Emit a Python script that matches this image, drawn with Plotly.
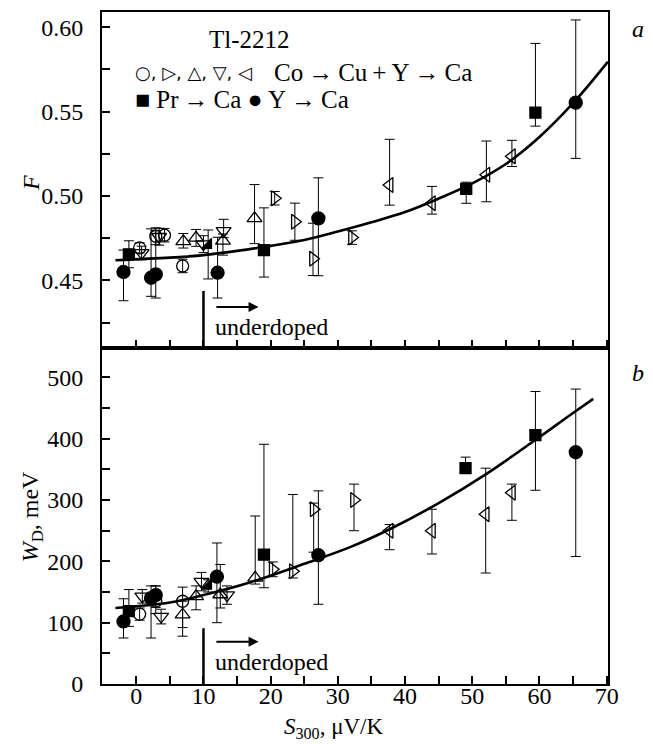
import plotly.graph_objects as go
from plotly.subplots import make_subplots

FONT = "Liberation Serif"

# ---------------- Panel a : F vs S300 ----------------
pr_S_a = [-1.1, 19.0, 49.1, 59.4]
pr_F = [0.4655, 0.468, 0.5042, 0.5494]
pr_F_up = [0.008, 0.025, 0.004, 0.041]
pr_F_dn = [0.008, 0.016, 0.0085, 0.008]

y_S_a = [-1.9, 2.2, 2.9, 12.1, 27.1, 65.4]
y_F = [0.455, 0.4516, 0.4536, 0.4546, 0.4868, 0.5553]
y_F_up = [0.013, 0.029, 0.026, 0.021, 0.024, 0.049]
y_F_dn = [0.017, 0.011, 0.014, 0.015, 0.034, 0.033]

c_S_a = [0.5, 2.9, 4.2, 6.9]
c_F = [0.4693, 0.4762, 0.4768, 0.4586]
c_F_up = [0.003, 0.005, 0.004, 0.004]
c_F_dn = [0.003, 0.005, 0.004, 0.004]

d_S_a = [0.8, 3.4, 10.0, 13.0]
d_F = [0.4663, 0.4759, 0.4715, 0.4794]
d_F_up = [0.004, 0.005, 0.005, 0.0068]
d_F_dn = [0.004, 0.005, 0.005, 0.004]

u_S_a = [7.0, 8.9, 12.9, 17.6]
u_F = [0.4732, 0.4752, 0.4735, 0.4868]
u_F_up = [0.0046, 0.005, 0.004, 0.020]
u_F_dn = [0.004, 0.005, 0.0085, 0.015]

r_S_a = [20.6, 23.6, 26.3, 32.1]
r_F = [0.4987, 0.4848, 0.4629, 0.4754]
r_F_up = [0.004, 0.011, 0.021, 0.004]
r_F_dn = [0.004, 0.011, 0.010, 0.004]

l_S_a = [37.7, 44.0, 52.1, 55.9]
l_F = [0.5066, 0.4957, 0.5126, 0.5235]
l_F_up = [0.027, 0.010, 0.020, 0.0095]
l_F_dn = [0.012, 0.0064, 0.016, 0.006]

f_S_a = [10.7]
f_F = [0.4709]
f_F_up = [0.009]
f_F_dn = [0.020]

curve_S_a = [-3.1, 5, 10, 15, 20, 25, 30, 35, 40, 45, 50, 55, 60, 65, 70.2]
curve_F = [0.462, 0.4635, 0.465, 0.4675, 0.4705, 0.474, 0.479, 0.4845, 0.4905,
           0.4985, 0.5075, 0.519, 0.535, 0.555, 0.5796]

# ---------------- Panel b : W_D vs S300 ----------------
pr_S_b = [-1.1, 19.0, 49.0, 59.4]
pr_W = [119, 211, 352, 406]
pr_W_up = [35, 180, 18, 71]
pr_W_dn = [25, 54, 6, 90]

y_S_b = [-1.9, 2.2, 2.9, 12.0, 27.1, 65.4]
y_W = [102, 140, 145, 175, 210, 378]
y_W_up = [37, 20, 15, 55, 105, 103]
y_W_dn = [27, 65, 20, 75, 80, 170]

c_S_b = [0.5, 2.9, 6.9]
c_W = [114, 135, 135]
c_W_up = [10, 25, 23]
c_W_dn = [10, 20, 43]

d_S_b = [0.9, 3.7, 9.7, 13.5]
d_W = [143, 110, 167, 145]
d_W_up = [11, 12, 15, 15]
d_W_dn = [11, 12, 15, 15]

u_S_b = [6.9, 8.9, 12.5, 17.7]
u_W = [113, 143, 146, 173]
u_W_up = [22, 17, 49, 101]
u_W_dn = [35, 22, 22, 10]

r_S_b = [20.3, 23.3, 26.4, 32.4]
r_W = [187, 184, 285, 300]
r_W_up = [12, 125, 10, 26]
r_W_dn = [12, 11, 70, 50]

l_S_b = [37.7, 44.0, 52.0, 55.9]
l_W = [250, 250, 277, 312]
l_W_up = [10, 35, 75, 14]
l_W_dn = [31, 38, 96, 45]

f_S_b = [10.7]
f_W = [160]
f_W_up = [10]
f_W_dn = [10]

curve_S_b = [-3.1, 5, 10, 17, 25, 32, 38, 45, 52, 59, 65, 68]
curve_W = [124, 133, 145, 166, 196, 224, 254, 295, 342, 395, 442, 465]

x_ticks = [0, 10, 20, 30, 40, 50, 60, 70]

fig = make_subplots(rows=2, cols=1, shared_xaxes=True, vertical_spacing=0)

def curve(S, V, row):
    fig.add_trace(go.Scatter(x=S, y=V, mode="lines",
                             line=dict(color="black", width=2.6, shape="spline", smoothing=1.0),
                             showlegend=False, hoverinfo="skip"), row=row, col=1)

def pts(S, V, up, dn, symbol, size, row, lw=1.3):
    fig.add_trace(go.Scatter(
        x=S, y=V, mode="markers",
        marker=dict(symbol=symbol, size=size, color="black", line=dict(color="black", width=lw)),
        error_y=dict(type="data", symmetric=False, array=up, arrayminus=dn,
                     color="black", thickness=1, width=5),
        showlegend=False), row=row, col=1)

curve(curve_S_a, curve_F, 1)
curve(curve_S_b, curve_W, 2)

pts(c_S_a, c_F, c_F_up, c_F_dn, "circle-open", 12, 1)
pts(d_S_a, d_F, d_F_up, d_F_dn, "triangle-down-open", 13, 1)
pts(u_S_a, u_F, u_F_up, u_F_dn, "triangle-up-open", 13, 1)
pts(r_S_a, r_F, r_F_up, r_F_dn, "triangle-right-open", 13, 1)
pts(l_S_a, l_F, l_F_up, l_F_dn, "triangle-left-open", 13, 1)
pts(f_S_a, f_F, f_F_up, f_F_dn, "triangle-se", 11, 1)
pts(pr_S_a, pr_F, pr_F_up, pr_F_dn, "square", 11, 1)
pts(y_S_a, y_F, y_F_up, y_F_dn, "circle", 13, 1)

pts(c_S_b, c_W, c_W_up, c_W_dn, "circle-open", 12, 2)
pts(d_S_b, d_W, d_W_up, d_W_dn, "triangle-down-open", 13, 2)
pts(u_S_b, u_W, u_W_up, u_W_dn, "triangle-up-open", 13, 2)
pts(r_S_b, r_W, r_W_up, r_W_dn, "triangle-right-open", 13, 2)
pts(l_S_b, l_W, l_W_up, l_W_dn, "triangle-left-open", 13, 2)
pts(f_S_b, f_W, f_W_up, f_W_dn, "triangle-se", 11, 2)
pts(pr_S_b, pr_W, pr_W_up, pr_W_dn, "square", 11, 2)
pts(y_S_b, y_W, y_W_up, y_W_dn, "circle", 13, 2)

axis_common = dict(showgrid=False, zeroline=False, ticks="inside", ticklen=8, tickwidth=1.5,
                   tickcolor="black", linecolor="black", linewidth=2, mirror=True,
                   tickfont=dict(family=FONT, size=24, color="black"))

fig.update_xaxes(range=[-5.1, 70.2], tickvals=x_ticks, ticklabelstandoff=-11,
                 minor=dict(dtick=5, tick0=0, ticks="inside", ticklen=8, tickwidth=1.5, tickcolor="black"),
                 **axis_common)
fig.update_xaxes(showticklabels=False, row=1, col=1)
fig.update_xaxes(showticklabels=True, row=2, col=1)
fig.update_yaxes(range=[0.41, 0.609], dtick=0.05, tick0=0.45, tickformat=".2f",
                 minor=dict(dtick=0.025, tick0=0.45, ticks="inside", ticklen=8, tickwidth=1.5, tickcolor="black"),
                 ticklabelstandoff=12, row=1, col=1, **axis_common)
fig.update_yaxes(range=[0, 548], dtick=100, tick0=0,
                 minor=dict(dtick=50, tick0=0, ticks="inside", ticklen=8, tickwidth=1.5, tickcolor="black"),
                 ticklabelstandoff=12, row=2, col=1, **axis_common)

# doping boundary lines
fig.add_shape(type="line", xref="x", yref="y", x0=10, x1=10, y0=0.41, y1=0.4438,
              line=dict(color="black", width=2.5))
fig.add_shape(type="line", xref="x2", yref="y2", x0=10, x1=10, y0=0, y1=91,
              line=dict(color="black", width=2.5))

tf = dict(family=FONT, size=24, color="black")
ann = []
# arrows + "underdoped"
ann.append(dict(x=18.2, y=0.4343, ax=11.7, ay=0.4343, xref="x", yref="y", axref="x", ayref="y",
                showarrow=True, arrowhead=2, arrowsize=1, arrowwidth=2, arrowcolor="black", text=""))
ann.append(dict(x=18.2, y=69, ax=11.7, ay=69, xref="x2", yref="y2", axref="x2", ayref="y2",
                showarrow=True, arrowhead=2, arrowsize=1, arrowwidth=2, arrowcolor="black", text=""))
ann.append(dict(x=11.4, y=0.4224, xref="x", yref="y", text="underdoped", showarrow=False,
                xanchor="left", yanchor="middle", font=tf))
ann.append(dict(x=11.4, y=36, xref="x2", yref="y2", text="underdoped", showarrow=False,
                xanchor="left", yanchor="middle", font=tf))
# legend text
ann.append(dict(x=0.291, y=0.959, xref="paper", yref="paper", text="Tl-2212", showarrow=False,
                xanchor="center", yanchor="middle", font=dict(family=FONT, size=25, color="black")))
ann.append(dict(x=0.062, y=0.910, xref="paper", yref="paper", text="○, ▷, △, ▽, ◁", showarrow=False,
                xanchor="left", yanchor="middle", font=dict(family="DejaVu Sans", size=18, color="black")))
ann.append(dict(x=0.335, y=0.910, xref="paper", yref="paper", text="Co\u2009→\u2009Cu\u2009+\u2009Y\u2009→\u2009Ca",
                showarrow=False, xanchor="left", yanchor="middle",
                font=dict(family=FONT, size=25, color="black")))
ann.append(dict(x=0.062, y=0.870, xref="paper", yref="paper", text="■ Pr\u2009→\u2009Ca \u25CF Y\u2009→\u2009Ca",
                showarrow=False, xanchor="left", yanchor="middle",
                font=dict(family=FONT, size=25, color="black")))
# panel letters
ann.append(dict(x=1.06, y=0.9745, xref="paper", yref="paper", text="<i>a</i>", showarrow=False,
                xanchor="center", yanchor="middle", font=tf))
ann.append(dict(x=1.06, y=0.4625, xref="paper", yref="paper", text="<i>b</i>", showarrow=False,
                xanchor="center", yanchor="middle", font=tf))
# axis titles
ann.append(dict(x=-0.139, y=0.745, xref="paper", yref="paper", text="<i>F</i>", showarrow=False,
                textangle=-90, xanchor="center", yanchor="middle", font=tf))
ann.append(dict(x=-0.139, y=0.249, xref="paper", yref="paper", text="<i>W</i><sub>D</sub>, meV",
                showarrow=False, textangle=-90, xanchor="center", yanchor="middle", font=tf))
ann.append(dict(x=0.458, y=-0.066, xref="paper", yref="paper", text="<i>S</i><sub>300</sub>, μV/K",
                showarrow=False, xanchor="center", yanchor="middle",
                font=dict(family=FONT, size=23, color="black")))

# the page body has an 8 px margin, so the figure is sized/offset to put the frame where the reference has it
fig.update_layout(width=645, height=736, margin=dict(l=94, r=45, t=2, b=60),
                  paper_bgcolor="white", plot_bgcolor="white", annotations=ann,
                  font=dict(family=FONT, color="black"))

fig.write_html("out.html")
